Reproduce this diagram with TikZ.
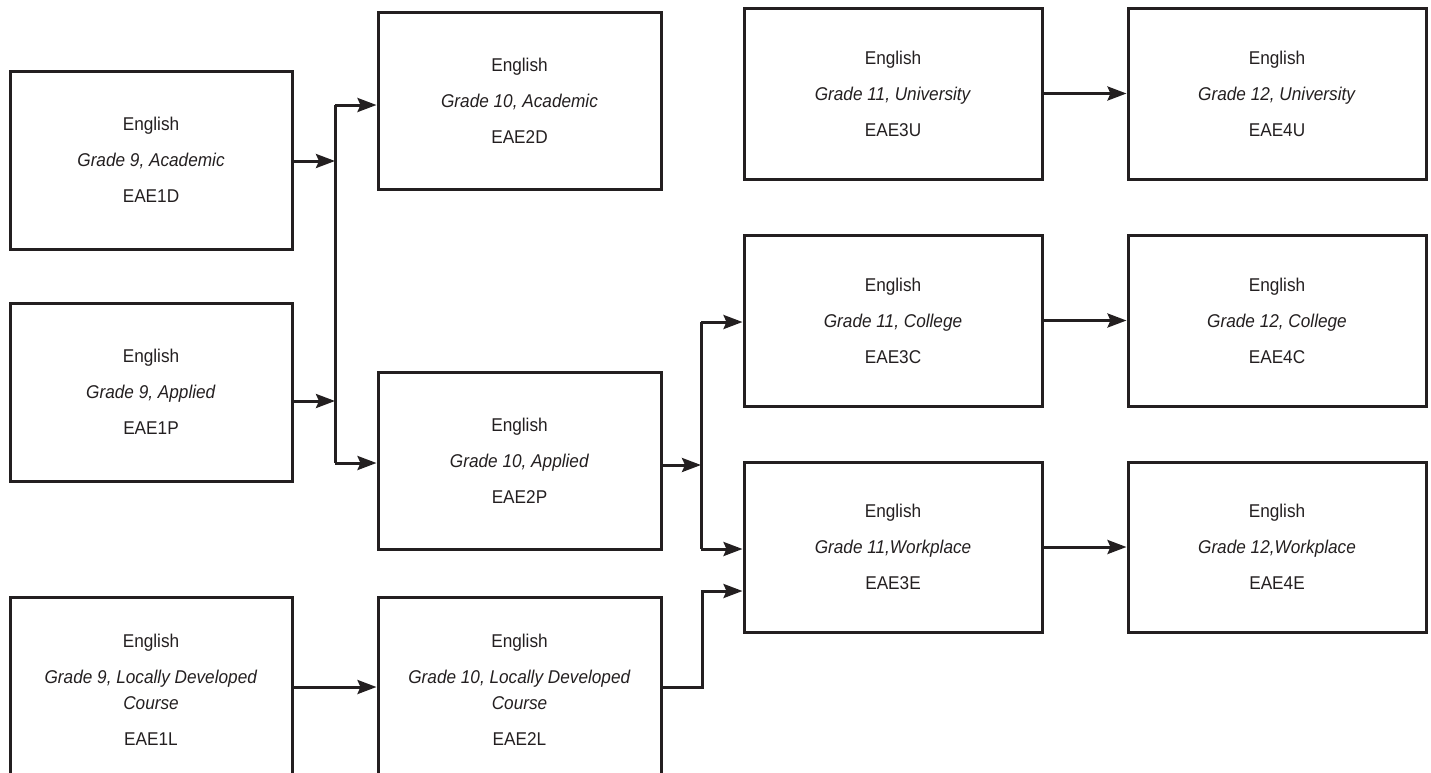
\documentclass[tikz,border=0pt]{standalone}
\usepackage{fontspec}
\setmainfont[FakeStretch=0.93]{Liberation Sans}
\usetikzlibrary{arrows.meta}
\definecolor{ink}{HTML}{231F20}
\tikzset{
  box/.style={draw=ink, line width=3pt, inner sep=0pt, align=center, text=ink,
    font=\fontsize{18.5}{26}\selectfont},
  conn/.style={draw=ink, line width=3pt},
  arr/.style={conn, -{Stealth[length=19pt,width=14pt,inset=3pt]}}
}
\newcommand{\gp}{\\[10pt]}
\begin{document}
\begin{tikzpicture}[x=1pt,y=-1pt]
\useasboundingbox (0,0) rectangle (1431,772);
\clip (0,0) rectangle (1431,772);
% column 1
\node[box, minimum width=282pt, minimum height=178pt] (b1) at (151,160) {English\gp\textit{Grade 9, Academic}\gp EAE1D};
\node[box, minimum width=282pt, minimum height=178pt] (b2) at (151,392) {English\gp\textit{Grade 9, Applied}\gp EAE1P};
\node[box, minimum width=282pt, minimum height=186pt] (b3) at (151,690) {English\gp\textit{Grade 9, Locally Developed}\\\textit{Course}\gp EAE1L};
% column 2
\node[box, minimum width=283pt, minimum height=177pt] (b4) at (519.5,100.5) {English\gp\textit{Grade 10, Academic}\gp EAE2D};
\node[box, minimum width=283pt, minimum height=177pt] (b5) at (519.5,460.5) {English\gp\textit{Grade 10, Applied}\gp EAE2P};
\node[box, minimum width=283pt, minimum height=186pt] (b6) at (519.5,690) {English\gp\textit{Grade 10, Locally Developed}\\\textit{Course}\gp EAE2L};
% column 3
\node[box, minimum width=298pt, minimum height=171pt] (b7) at (893,93.5) {English\gp\textit{Grade 11, University}\gp EAE3U};
\node[box, minimum width=298pt, minimum height=171pt] (b8) at (893,320.5) {English\gp\textit{Grade 11, College}\gp EAE3C};
\node[box, minimum width=298pt, minimum height=170pt] (b9) at (893,547) {English\gp\textit{Grade 11,Workplace}\gp EAE3E};
% column 4
\node[box, minimum width=298pt, minimum height=171pt] (b10) at (1277,93.5) {English\gp\textit{Grade 12, University}\gp EAE4U};
\node[box, minimum width=298pt, minimum height=171pt] (b11) at (1277,320.5) {English\gp\textit{Grade 12, College}\gp EAE4C};
\node[box, minimum width=298pt, minimum height=170pt] (b12) at (1277,547) {English\gp\textit{Grade 12,Workplace}\gp EAE4E};
% junction coordinates
\coordinate (j1) at (335,161);
\coordinate (j2) at (335,401);
\coordinate (j3) at (335,105);
\coordinate (j4) at (335,463);
\coordinate (k1) at (701,465);
\coordinate (k2) at (701,322);
\coordinate (k3) at (701,549);
\coordinate (m1) at (702,687);
\coordinate (m2) at (702,591);
% connectors
\draw[arr] (b1.east |- j1) -- (j1);
\draw[arr] (b2.east |- j2) -- (j2);
\draw[conn] (j3) -- (j4);
\draw[arr] (j3) -- (b4.west |- j3);
\draw[arr] (j4) -- (b5.west |- j4);
\draw[arr] (b5.east |- k1) -- (k1);
\draw[conn] (k2) -- (k3);
\draw[arr] (k2) -- (b8.west |- k2);
\draw[arr] (k3) -- (b9.west |- k3);
\draw[arr] (b3.east |- m1) -- (b6.west |- m1);
\draw[arr] (b6.east |- m1) -- (m1) -- (m2) -- (b9.west |- m2);
\draw[arr] (b7.east) -- (b10.west);
\draw[arr] (b8.east) -- (b11.west);
\draw[arr] (b9.east) -- (b12.west);
\end{tikzpicture}
\end{document}
